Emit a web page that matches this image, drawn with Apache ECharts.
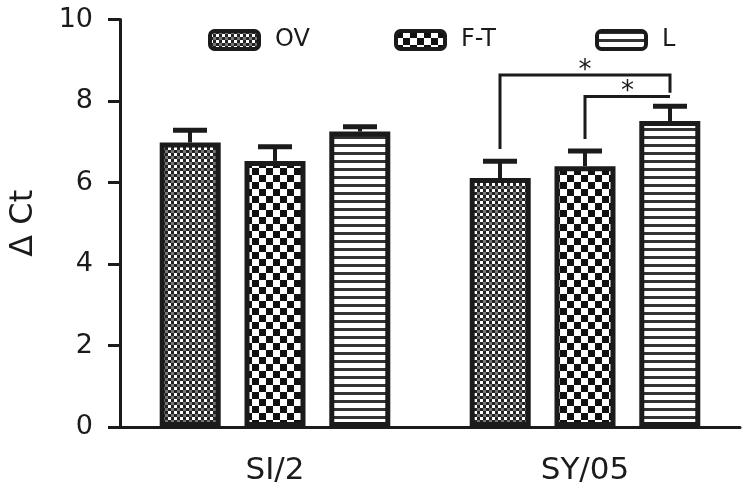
<!DOCTYPE html>
<html>
<head>
<meta charset="utf-8">
<script src="https://cdn.jsdelivr.net/npm/echarts@6/dist/echarts.min.js"></script>
<style>
  html, body { margin: 0; padding: 0; background: #fff; }
  #chart { width: 750px; height: 498px; }
</style>
</head>
<body>
<div id="chart"></div>
<script>
// data
const categories = ['SI/2', 'SY/05'];
const seriesNames = ['OV', 'F-T', 'L'];
const ovMean = [6.98, 6.11];
const ovErr = [0.30, 0.41];
const ftMean = [6.53, 6.40];
const ftErr = [0.35, 0.37];
const lMean = [7.25, 7.51];
const lErr = [0.12, 0.36];
const yTicks = [0, 2, 4, 6, 8, 10];
// significance brackets: [group, fromBar, toBar, barY, fromLegEnd, toLegEnd]
const brackets = [
    [1, 0, 2, 8.64, 6.82, 8.2],
    [1, 1, 2, 8.11, 7.07, 8.11]
];

const means = [ovMean, ftMean, lMean];
const errs = [ovErr, ftErr, lErr];

const FONT = 'DejaVu Sans';
const INK = '#1b1b1b';
const BAR_STEP = 85; // px between bar centres in a group

function makePattern(size, draw) {
    const c = document.createElement('canvas');
    c.width = size;
    c.height = size;
    const ctx = c.getContext('2d');
    ctx.fillStyle = '#fff';
    ctx.fillRect(0, 0, size, size);
    draw(ctx);
    return { image: c, repeat: 'repeat' };
}

// fine dot grid
const ovPattern = makePattern(6, ctx => {
    ctx.fillStyle = '#222';
    ctx.fillRect(0, 0, 3, 3);
    ctx.fillRect(3, 3, 3, 3);
    ctx.fillStyle = '#777';
    ctx.fillRect(3, 0, 3, 3);
});
// coarse checker
const ftPattern = makePattern(14, ctx => {
    ctx.fillStyle = '#111';
    ctx.fillRect(0, 0, 7, 7);
    ctx.fillRect(7, 7, 7, 7);
});
// horizontal stripes
const lPattern = makePattern(8, ctx => {
    ctx.fillStyle = '#333';
    ctx.fillRect(0, 0, 8, 3);
});
const patterns = [ovPattern, ftPattern, lPattern];

const barSeries = seriesNames.map((name, i) => ({
    name: name,
    type: 'bar',
    data: means[i],
    barWidth: 61,
    barGap: '39%',
    itemStyle: {
        color: patterns[i],
        borderColor: INK,
        borderWidth: 5
    },
    emphasis: { disabled: true }
}));

const errData = [];
means.forEach((m, bi) => {
    m.forEach((v, gi) => errData.push([gi, v + errs[bi][gi], bi, v]));
});

const errSeries = {
    type: 'custom',
    data: errData,
    encode: { x: 0, y: 1 },
    z: 3,
    renderItem: function (params, api) {
        const gi = api.value(0);
        const top = api.value(1);
        const bi = api.value(2);
        const mean = api.value(3);
        const x = api.coord([gi, 0])[0] + (bi - 1) * BAR_STEP;
        const y0 = api.coord([gi, mean])[1];
        const y1 = api.coord([gi, top])[1];
        return {
            type: 'group',
            children: [
                { type: 'line', shape: { x1: x, y1: y0, x2: x, y2: y1 },
                  style: { stroke: INK, lineWidth: 4 } },
                { type: 'line', shape: { x1: x - 17, y1: y1, x2: x + 17, y2: y1 },
                  style: { stroke: INK, lineWidth: 5 } }
            ]
        };
    }
};

const bracketSeries = {
    type: 'custom',
    data: brackets,
    encode: { x: 0, y: 3 },
    z: 4,
    renderItem: function (params, api) {
        const gi = api.value(0);
        const xa = api.coord([gi, 0])[0] + (api.value(1) - 1) * BAR_STEP;
        const xb = api.coord([gi, 0])[0] + (api.value(2) - 1) * BAR_STEP;
        const y = api.coord([gi, api.value(3)])[1];
        const ya = api.coord([gi, api.value(4)])[1];
        const yb = api.coord([gi, api.value(5)])[1];
        return {
            type: 'group',
            children: [
                { type: 'polyline',
                  shape: { points: [[xa, ya], [xa, y], [xb, y], [xb, yb]] },
                  style: { stroke: INK, lineWidth: 3, fill: null } },
                { type: 'text',
                  style: { text: '*', x: (xa + xb) / 2, y: y + 9, align: 'center',
                           verticalAlign: 'bottom', font: '26px ' + FONT, fill: INK } }
            ]
        };
    }
};

function legendAt(name, left) {
    return {
        data: [name],
        left: left,
        top: 23,
        itemWidth: 49,
        itemHeight: 18,
        icon: 'roundRect',
        selectedMode: false,
        itemStyle: { borderWidth: 4, borderColor: INK },
        textStyle: { fontFamily: FONT, fontSize: 24, color: INK, padding: [0, 0, 0, 11] }
    };
}

const chart = echarts.init(document.getElementById('chart'));
chart.setOption({
    animation: false,
    backgroundColor: '#fff',
    legend: [legendAt('OV', 203), legendAt('F-T', 389), legendAt('L', 590)],
    grid: { left: 117, right: 10, top: 19.5, bottom: 71 },
    xAxis: {
        type: 'category',
        data: categories,
        axisLine: { lineStyle: { color: INK, width: 3 } },
        axisTick: { alignWithLabel: true, length: 12, lineStyle: { color: INK, width: 3 } },
        axisLabel: { fontFamily: FONT, fontSize: 31, color: INK, margin: 28 }
    },
    yAxis: {
        type: 'value',
        min: yTicks[0],
        max: yTicks[yTicks.length - 1],
        interval: 2,
        name: 'Δ Ct',
        nameLocation: 'middle',
        nameGap: 80,
        nameTextStyle: { fontFamily: FONT, fontSize: 32, color: INK },
        axisLine: { show: true, lineStyle: { color: INK, width: 3 } },
        axisTick: { show: true, length: 12, lineStyle: { color: INK, width: 3 } },
        axisLabel: { fontFamily: FONT, fontSize: 27, color: INK, margin: 27 },
        splitLine: { show: false }
    },
    series: barSeries.concat([errSeries, bracketSeries])
});
</script>
</body>
</html>
